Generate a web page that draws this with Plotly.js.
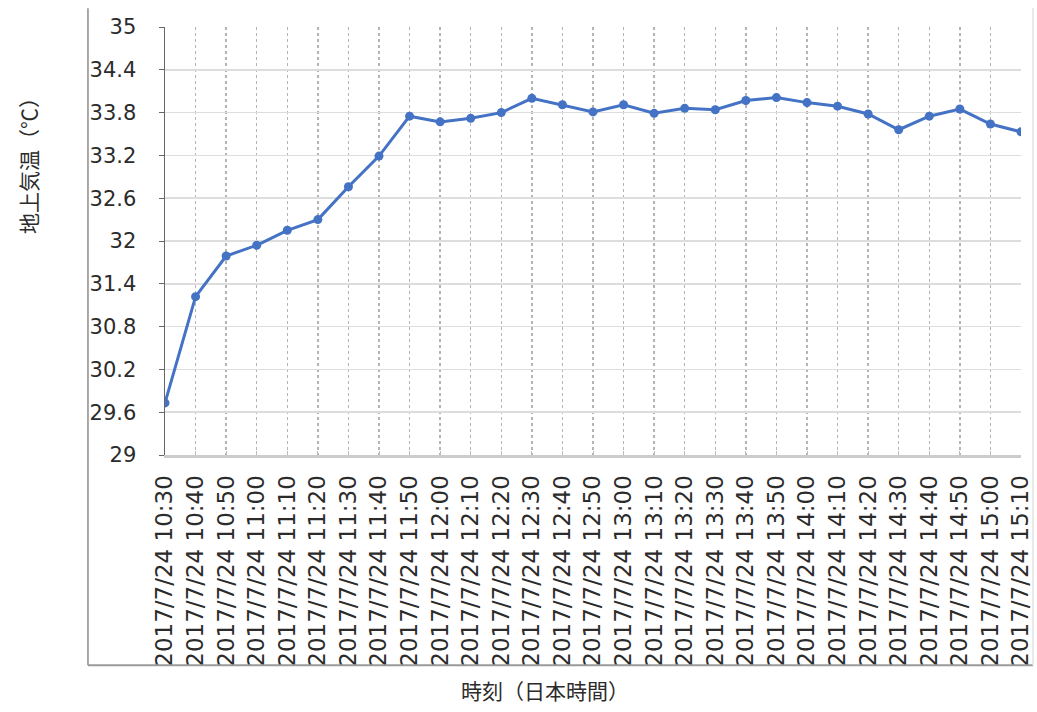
<!DOCTYPE html>
<html>
<head>
<meta charset="utf-8">
<script src="https://cdn.plot.ly/plotly-3.0.1.min.js"></script>
<style>
  html, body { margin: 0; padding: 0; background: #ffffff; }
  #chart { width: 1037px; height: 712px; }
</style>
</head>
<body>
<div id="chart"></div>
<script>
// 観測時刻（10分間隔）
const times = [
  '2017/7/24 10:30', '2017/7/24 10:40', '2017/7/24 10:50', '2017/7/24 11:00',
  '2017/7/24 11:10', '2017/7/24 11:20', '2017/7/24 11:30', '2017/7/24 11:40',
  '2017/7/24 11:50', '2017/7/24 12:00', '2017/7/24 12:10', '2017/7/24 12:20',
  '2017/7/24 12:30', '2017/7/24 12:40', '2017/7/24 12:50', '2017/7/24 13:00',
  '2017/7/24 13:10', '2017/7/24 13:20', '2017/7/24 13:30', '2017/7/24 13:40',
  '2017/7/24 13:50', '2017/7/24 14:00', '2017/7/24 14:10', '2017/7/24 14:20',
  '2017/7/24 14:30', '2017/7/24 14:40', '2017/7/24 14:50', '2017/7/24 15:00',
  '2017/7/24 15:10'
];

// 地上気温（℃）
const temperature = [
  29.73, 31.22, 31.79, 31.94, 32.15, 32.30, 32.76, 33.19,
  33.75, 33.67, 33.72, 33.80, 34.00, 33.91, 33.81, 33.91,
  33.79, 33.86, 33.84, 33.97, 34.01, 33.94, 33.89, 33.78,
  33.56, 33.75, 33.85, 33.64, 33.53
];

// 縦軸の目盛
const yTickVals = [29, 29.6, 30.2, 30.8, 31.4, 32, 32.6, 33.2, 33.8, 34.4, 35];
const yTickText = ['29', '29.6', '30.2', '30.8', '31.4', '32', '32.6', '33.2', '33.8', '34.4', '35'];

const labelFont = 'DejaVu Sans, Liberation Sans, sans-serif';
const cjkFont = 'Noto Sans CJK JP, Noto Sans CJK SC, sans-serif';

const trace = {
  type: 'scatter',
  mode: 'lines+markers',
  x: times,
  y: temperature,
  line: { color: '#4472c4', width: 3 },
  marker: { color: '#4472c4', size: 9 },
  hoverinfo: 'x+y'
};

const layout = {
  width: 1037,
  height: 712,
  margin: { l: 165, r: 16, t: 27, b: 257 },
  paper_bgcolor: '#ffffff',
  plot_bgcolor: '#ffffff',
  showlegend: false,
  xaxis: {
    type: 'category',
    range: [0, times.length - 1],
    tickangle: -90,
    tickfont: { family: labelFont, size: 23, color: '#2b2b2b' },
    showgrid: true,
    gridcolor: '#b4b4b4',
    gridwidth: 1.5,
    griddash: 'dot',
    showline: true,
    linecolor: '#cccccc',
    linewidth: 3,
    ticks: 'inside',
    ticklen: 4,
    tickcolor: '#bbbbbb',
    ticklabelstandoff: 8,
    zeroline: false,
    fixedrange: true
  },
  yaxis: {
    range: [29, 35],
    tickvals: yTickVals,
    ticktext: yTickText,
    tickfont: { family: labelFont, size: 21, color: '#2b2b2b' },
    showgrid: true,
    gridcolor: '#dddddd',
    gridwidth: 1.5,
    showline: true,
    linecolor: '#666666',
    linewidth: 1.5,
    ticks: 'outside',
    ticklen: 5,
    tickcolor: '#666666',
    ticklabelstandoff: 18,
    zeroline: false,
    fixedrange: true
  },
  annotations: [
    {
      text: '地上気温（℃）',
      xref: 'paper', yref: 'paper',
      x: -0.160, y: 0.687,
      xanchor: 'center', yanchor: 'middle',
      textangle: -90,
      showarrow: false,
      font: { family: cjkFont, size: 21, color: '#2b2b2b' }
    },
    {
      text: '時刻（日本時間）',
      xref: 'paper', yref: 'paper',
      x: 0.444, y: -0.549,
      xanchor: 'center', yanchor: 'middle',
      showarrow: false,
      font: { family: cjkFont, size: 21, color: '#2b2b2b' }
    }
  ],
  shapes: [
    // 外枠：左
    { type: 'line', xref: 'paper', yref: 'paper', x0: -0.090, x1: -0.090, y0: 1.044, y1: -0.491,
      line: { color: '#8c8c8c', width: 1.5 } },
    // 外枠：下
    { type: 'line', xref: 'paper', yref: 'paper', x0: -0.090, x1: 1.014, y0: -0.491, y1: -0.491,
      line: { color: '#9a9a9a', width: 2 } },
    // 外枠：右
    { type: 'line', xref: 'paper', yref: 'paper', x0: 1.014, x1: 1.014, y0: 1.044, y1: -0.491,
      line: { color: '#e2e2e2', width: 1.5 } }
  ]
};

Plotly.newPlot('chart', [trace], layout, { displayModeBar: false, staticPlot: true });
</script>
</body>
</html>
